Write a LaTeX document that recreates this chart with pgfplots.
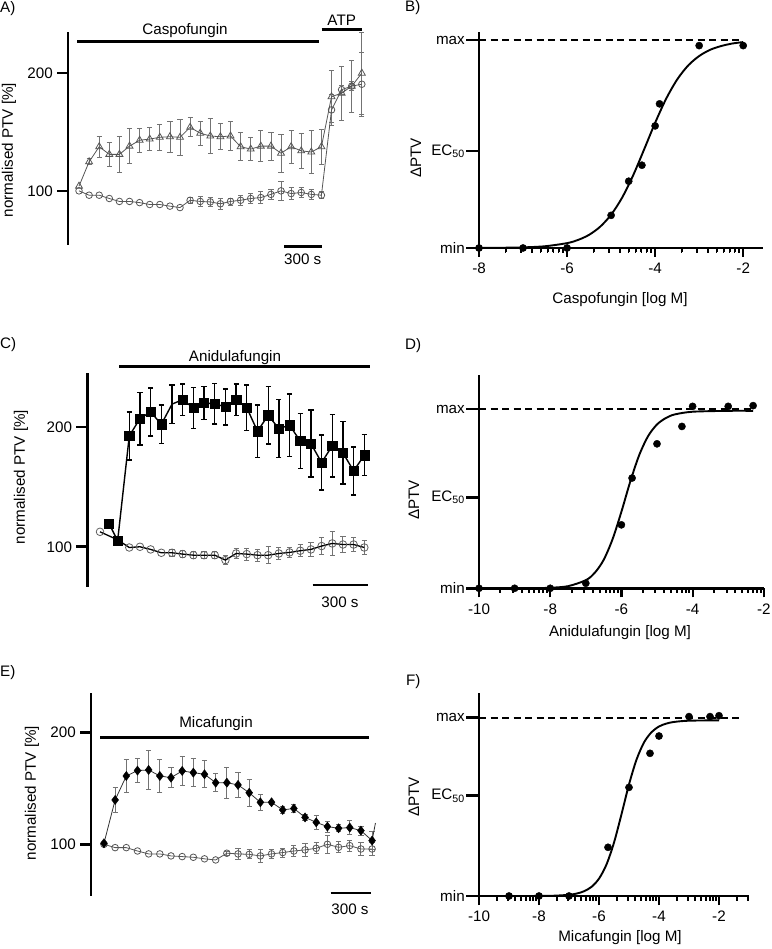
\documentclass[border=0pt]{standalone}
\usepackage{fontspec}
\setmainfont{Liberation Sans}
\usepackage{pgfplots}
\usepackage{pgfplotstable}
\pgfplotsset{compat=1.18}
\definecolor{agray}{RGB}{85,85,85}
\definecolor{egray}{RGB}{115,115,115}
\definecolor{cgray}{RGB}{95,95,95}

% Panel A: caspofungin (triangles) and control (circles)
\pgfplotstableread{
i v e
0 104 0
1 124.7 2.5
2 137.5 9
3 131 10
4 131 15
5 138 15
6 143 10
7 144 10
8 145.5 11
9 146 13
10 145.5 15
11 154 8
12 149 10
13 146.6 15
14 146 11
15 146.6 12
16 137.5 12
17 135.5 10
18 138 13
19 138 12
20 132 16
21 137.5 14
22 134 15
23 133 18
24 137.5 15
25 180 22
26 183 23
27 189 22
28 200 35
}\AT
\pgfplotstableread{
i v e
0 100 0
1 96.3 0
2 96.3 0
3 93.5 0
4 91 0
5 91 0
6 90 0
7 88.4 0
8 88.4 0
9 87 0
10 85.8 0
11 92 2.5
12 91 4
13 90.6 4
14 89 5
15 91 3
16 92 4
17 93.5 4
18 94.3 5
19 97 4
20 100 8
21 97.7 5
22 98.6 4
23 97 4
24 96.3 3
25 168.8 13
26 186 4
27 189 4
28 190.6 27
}\AC
% Panel C: anidulafungin (squares) and control (circles)
\pgfplotstableread{
i v e
0.1 119.4 2
0.91 105 0
2 192.5 20
3 207 22
4 212.5 20
5 202.2 16
6 219 16
7 222.8 13
8 215.8 17
9 220 14
10 219.4 17
11 216.7 15
12 222.8 13
13 216 19
14 196.4 22
15 209.7 24
16 198.6 24
17 201.4 26
18 188.3 23
19 186.1 28
20 170.3 23
21 184.2 26
22 178.3 26
23 163.3 20
24 176.4 17
}\CS
\pgfplotstableread{
i v e
-0.74 112.5 0
0.91 105.8 0
2 99.4 0
3 100 0
4 97.8 0
5 95 1.5
6 95 3
7 93.9 3
8 93 3
9 93 3
10 93 3
11 88.9 4
12 94.4 4
13 93.9 5
14 93 5
15 93 7
16 94.4 5
17 95.3 4
18 96.7 5
19 97.8 6
20 100.6 7
21 102.8 10
22 101.9 7
23 101.9 6
24 99.4 6
}\CC
% Panel E: micafungin (diamonds) and control (circles)
\pgfplotstableread{
i v e
0 100.9 0
1 139.6 11
2 161 15
3 165.8 11
4 166.4 17
5 161 15
6 159.5 9
7 165.5 13
8 164 12.5
9 162.5 12
10 155 8
11 155 14
12 153 11
13 146 12
14 137.5 7
15 137.5 2
16 130.7 3
17 132 4
18 124 3
19 119.6 6
20 115.8 5
21 114.3 3
22 114.9 6
23 112.2 4
24 103.3 8
24.3 119 0
}\ED
\pgfplotstableread{
i v e
0 100 0
1 97 0
2 97 0
3 94 0
4 91.4 0
5 91.4 0
6 89.6 0
7 89 0
8 88.4 0
9 87 0
10 86 0
11 92 2
12 91.4 5
13 91 4
14 89.6 6
15 91.4 4
16 92.6 4
17 94 5
18 95 6
19 96.4 5
20 100 8
21 97.3 5
22 98.8 5
23 95.8 6
24 95.8 6
}\EC
% Concentration-response points
\pgfplotstableread{
x y
-8 0
-7 0
-6 0
-5 0.157
-4.6 0.321
-4.3 0.398
-4 0.587
-3.9 0.693
-3 0.973
-2 0.973
}\Bpts
\pgfplotstableread{
x y
-8 0.0004
-7.5 0.0011
-7 0.003
-6.5 0.0084
-6 0.0234
-5.75 0.0387
-5.5 0.0633
-5.25 0.102
-5 0.16
-4.75 0.242
-4.5 0.349
-4.25 0.474
-4 0.602
-3.75 0.7175
-3.5 0.81
-3.25 0.8775
-3 0.923
-2.75 0.953
-2.5 0.971
-2.25 0.983
-2 0.99
}\Bfit
\pgfplotstableread{
x y
-10 0
-9 0
-8 0
-7 0.028
-6 0.354
-5.7 0.615
-5 0.806
-4.3 0.903
-4 1.015
-3 1.015
-2.3 1.019
}\Dpts
\pgfplotstableread{
x y
-10 0
-9 0.0002
-8.5 0.0008
-8 0.003
-7.5 0.0118
-7 0.0452
-6.75 0.086
-6.5 0.158
-6.25 0.273
-6 0.427
-5.75 0.596
-5.5 0.743
-5.25 0.849
-5 0.914
-4.75 0.950
-4.5 0.970
-4 0.985
-3 0.990
-2.3 0.990
}\Dfit
\pgfplotstableread{
x y
-9 0
-8 0
-7 0
-5.7 0.273
-5 0.609
-4.3 0.8
-4 0.897
-3 1.006
-2.3 1.006
-2 1.011
}\Fpts
\pgfplotstableread{
x y
-10 0
-9 0.00003
-8 0.0004
-7.5 0.0017
-7 0.0068
-6.75 0.0134
-6.5 0.0264
-6.25 0.0512
-6 0.0973
-5.75 0.1768
-5.5 0.2994
-5.25 0.4585
-5 0.6255
-4.75 0.7644
-4.5 0.8609
-4.25 0.9185
-4 0.9505
-3.75 0.967
-3.5 0.976
-3 0.983
-2 0.985
}\Ffit

\pgfplotsset{
  linestyles/.style={
    axis line style={-, line width=2.6pt, black},
    tick style={line width=2.4pt, black},
    major tick length=10pt, minor tick length=4.5pt,
    tick align=outside},
  base/.style={scale only axis, anchor=south west, clip=false},
  timeax/.style={base, axis y line=left, axis x line=none,
    ytick={100,200}, yticklabels={100,200}, linestyles},
  doseax/.style={base, axis lines=left, ymin=0,
    ytick={0,#1,1}, yticklabels={min,EC\textsubscript{50},max},
    x tick label style={yshift=-1pt}, linestyles,
    x tick style={line width=2pt, black},
    major tick length=9pt},
  ebar/.style n args={3}{only marks, mark=o, mark options={opacity=0}, forget plot,
    unbounded coords=discard,
    restrict expr to domain={\thisrow{e}}{#2:1000},
    /pgfplots/error bars/y dir=both, /pgfplots/error bars/y explicit,
    /pgfplots/error bars/error bar style={line width=#1, #3, opacity=1},
    /pgfplots/error bars/error mark options={rotate=90, mark size=2.6pt, line width=#1, #3, opacity=1}},
  fitline/.style={black, line width=1.9pt, smooth, mark=none},
  dots/.style={only marks, mark=*, mark size=3.6pt, black},
  maxline/.style={black, line width=1.9pt, dash pattern=on 7pt off 4.5pt, mark=none},
}

\begin{document}
\fontsize{15.2}{18}\selectfont
\begin{tikzpicture}
% ---------------- A ----------------
\begin{axis}[timeax, at={(68pt,704pt)}, width=302pt, height=213pt,
  xmin=-1.09, xmax=28.81, ymin=54, ymax=235]
\addplot[ebar={0.8pt}{2}{egray}] table[x=i, y=v, y error=e] {\AT};
\addplot[ebar={0.8pt}{2}{egray}] table[x=i, y=v, y error=e] {\AC};
\addplot[agray, line width=0.8pt, mark=triangle, mark size=4pt, mark options={line width=0.8pt}] table[x=i, y=v] {\AT};
\addplot[agray, line width=0.8pt, mark=o, mark size=3.3pt, mark options={line width=0.8pt}] table[x=i, y=v] {\AC};
\end{axis}
% ---------------- B ----------------
\begin{axis}[doseax=0.466, at={(479pt,701pt)}, width=284pt, height=216.3pt,
  xmin=-8, xmax=-1.55, ymax=1.04,
  xtick={-8,-6,-4,-2}, xticklabels={-8,-6,-4,-2},
  minor xtick={-7.398,-7.046,-6.796,-6.602,-6.444,-6.310,-6.194,-6.092,
    -5.398,-5.046,-4.796,-4.602,-4.444,-4.310,-4.194,-4.092,
    -3.398,-3.046,-2.796,-2.602,-2.444,-2.310,-2.194,-2.092}]
\addplot[maxline] coordinates {(-8,1) (-2,1)};
\addplot[fitline] table[x=x, y=y] {\Bfit};
\addplot[dots] table[x=x, y=y] {\Bpts};
\end{axis}
% ---------------- C ----------------
\begin{axis}[timeax, at={(87.3pt,362.3pt)}, width=284.7pt, height=213.7pt,
  xmin=-1.93, xmax=24.72, ymin=66.7, ymax=245]
\addplot[ebar={1.3pt}{1.8}{black}] table[x=i, y=v, y error=e] {\CS};
\addplot[ebar={0.9pt}{2.5}{egray}] table[x=i, y=v, y error=e] {\CC};
\addplot[black, line width=1.3pt, mark=none] table[x=i, y=v] {\CC};
\addplot[cgray, only marks, mark=o, mark size=3.8pt, mark options={line width=0.8pt}] table[x=i, y=v] {\CC};
\addplot[black, line width=1.4pt, mark=none] table[x=i, y=v] {\CS};
\addplot[black, only marks, mark=square*, mark size=4.6pt,
  mark indices={1,2,3,4,5,6,8,9,10,11,12,13,14,15,16,17,18,19,20,21,22,23,24,25}] table[x=i, y=v] {\CS};
\end{axis}
% ---------------- D ----------------
\begin{axis}[doseax=0.508, at={(479pt,360.7pt)}, width=284.8pt, height=213.3pt,
  xmin=-10, xmax=-2, ymax=1.19,
  xtick={-10,-8,-6,-4,-2}, xticklabels={-10,-8,-6,-4,-2},
  minor xtick={-9.398,-9.046,-8.796,-8.602,-8.444,-8.310,-8.194,-8.092,
    -7.398,-7.046,-6.796,-6.602,-6.444,-6.310,-6.194,-6.092,
    -5.398,-5.046,-4.796,-4.602,-4.444,-4.310,-4.194,-4.092,
    -3.398,-3.046,-2.796,-2.602,-2.444,-2.310,-2.194,-2.092}]
\addplot[maxline] coordinates {(-10,1) (-2.3,1)};
\addplot[fitline] table[x=x, y=y] {\Dfit};
\addplot[dots] table[x=x, y=y] {\Dpts};
\end{axis}
% ---------------- E ----------------
\begin{axis}[timeax, at={(91pt,53pt)}, width=285pt, height=203.3pt,
  xmin=-1.16, xmax=24.35, ymin=53.8, ymax=235.4]
\addplot[ebar={0.9pt}{1.8}{egray}] table[x=i, y=v, y error=e] {\ED};
\addplot[ebar={0.9pt}{2}{egray}] table[x=i, y=v, y error=e] {\EC};
\addplot[agray, line width=0.8pt, mark=o, mark size=3.3pt, mark options={line width=0.8pt}] table[x=i, y=v] {\EC};
\addplot[black!80, line width=0.8pt, mark=none] table[x=i, y=v] {\ED};
\addplot[black, only marks, mark=diamond*, mark size=4.6pt,
  mark indices={1,2,3,4,5,6,7,8,9,10,11,12,13,14,15,16,17,18,19,20,21,22,23,24,25}] table[x=i, y=v] {\ED};
\end{axis}
% ---------------- F ----------------
\begin{axis}[doseax=0.563, at={(479pt,53pt)}, width=270pt, height=203.3pt,
  xmin=-10, xmax=-1, ymax=1.14,
  xtick={-10,-8,-6,-4,-2}, xticklabels={-10,-8,-6,-4,-2},
  minor xtick={-9.398,-9.046,-8.796,-8.602,-8.444,-8.310,-8.194,-8.092,
    -7.398,-7.046,-6.796,-6.602,-6.444,-6.310,-6.194,-6.092,
    -5.398,-5.046,-4.796,-4.602,-4.444,-4.310,-4.194,-4.092,
    -3.398,-3.046,-2.796,-2.602,-2.444,-2.310,-2.194,-2.092,-1.398,-1.046}]
\addplot[maxline] coordinates {(-10,1) (-1.23,1)};
\addplot[fitline] table[x=x, y=y] {\Ffit};
\addplot[dots] table[x=x, y=y] {\Fpts};
\end{axis}

% ---------- tick overlays in picture coordinates ----------
\begin{scope}[line width=2.6pt, black]
% y ticks, time panels
\foreach \yy in {758.13,875.81} \draw (68pt,\yy pt) -- (57pt,\yy pt);
\foreach \yy in {402.21,522.07} \draw (87.3pt,\yy pt) -- (76.3pt,\yy pt);
\foreach \yy in {104.72,216.67} \draw (91pt,\yy pt) -- (80pt,\yy pt);
% y ticks, dose panels
\foreach \yy in {701,797.92,908.98} \draw (479pt,\yy pt) -- (466pt,\yy pt);
\foreach \yy in {360.7,451.75,539.94} \draw (479pt,\yy pt) -- (466pt,\yy pt);
\foreach \yy in {53,153.4,231.33} \draw (479pt,\yy pt) -- (466pt,\yy pt);
\end{scope}
\begin{scope}[line width=2.2pt, black]
\foreach \xx in {479,567.06,655.12,743.19} \draw (\xx pt,701pt) -- (\xx pt,692pt);
\foreach \xx in {479,550.2,621.4,692.6,763.8} \draw (\xx pt,360.7pt) -- (\xx pt,351.7pt);
\foreach \xx in {479,539,599,659,719} \draw (\xx pt,53pt) -- (\xx pt,44pt);
\end{scope}
\begin{scope}[line width=1.6pt, black]
\foreach \v in {-7.398,-7.046,-6.796,-6.602,-6.444,-6.310,-6.194,-6.092,-5.398,-5.046,-4.796,-4.602,-4.444,-4.310,-4.194,-4.092,-3.398,-3.046,-2.796,-2.602,-2.444,-2.310,-2.194,-2.092}
  \draw ({479pt+44.031pt*(\v+8)},701pt) -- ++(0pt,-5pt);
\foreach \v in {-9.398,-9.046,-8.796,-8.602,-8.444,-8.310,-8.194,-8.092,-7.398,-7.046,-6.796,-6.602,-6.444,-6.310,-6.194,-6.092,-5.398,-5.046,-4.796,-4.602,-4.444,-4.310,-4.194,-4.092,-3.398,-3.046,-2.796,-2.602,-2.444,-2.310,-2.194,-2.092}
  \draw ({479pt+35.6pt*(\v+10)},360.7pt) -- ++(0pt,-5pt);
\foreach \v in {-9.398,-9.046,-8.796,-8.602,-8.444,-8.310,-8.194,-8.092,-7.398,-7.046,-6.796,-6.602,-6.444,-6.310,-6.194,-6.092,-5.398,-5.046,-4.796,-4.602,-4.444,-4.310,-4.194,-4.092,-3.398,-3.046,-2.796,-2.602,-2.444,-2.310,-2.194,-2.092,-1.398,-1.046}
  \draw ({479pt+30pt*(\v+10)},53pt) -- ++(0pt,-5pt);
\end{scope}

% ---------- annotations ----------
\node[anchor=west, inner sep=0] at (0pt,940pt) {A)};
\node[anchor=west, inner sep=0] at (405pt,941pt) {B)};
\node[anchor=west, inner sep=0] at (0pt,604pt) {C)};
\node[anchor=west, inner sep=0] at (405pt,603pt) {D)};
\node[anchor=west, inner sep=0] at (0pt,276pt) {E)};
\node[anchor=west, inner sep=0] at (406pt,267pt) {F)};
\node[rotate=90] at (9pt,799pt) {normalised PTV [\%]};
\node[rotate=90] at (21pt,472pt) {normalised PTV [\%]};
\node[rotate=90] at (32pt,156pt) {normalised PTV [\%]};
\node[rotate=90] at (416pt,791pt) {ΔPTV};
\node[rotate=90] at (414pt,449pt) {ΔPTV};
\node[rotate=90] at (414pt,152pt) {ΔPTV};
\node at (620pt,649pt) {Caspofungin [log M]};
\node at (620pt,316pt) {Anidulafungin [log M]};
\node at (620pt,11pt) {Micafungin [log M]};
\draw[line width=2.7pt] (77pt,907.3pt) -- (319pt,907.3pt);
\node[anchor=base] at (185pt,914.7pt) {Caspofungin};
\draw[line width=2.7pt] (321.7pt,919.7pt) -- (361.7pt,919.7pt);
\node[anchor=base] at (341.7pt,923pt) {ATP};
\draw[line width=2.7pt] (119.3pt,582.3pt) -- (370pt,582.3pt);
\node[anchor=base] at (235pt,587pt) {Anidulafungin};
\draw[line width=2.7pt] (100pt,211.7pt) -- (369.3pt,211.7pt);
\node[anchor=base] at (216pt,221pt) {Micafungin};
\draw[line width=2.5pt] (284pt,702.3pt) -- (321.7pt,702.3pt);
\node[anchor=base] at (302.7pt,684pt) {300 s};
\draw[line width=2.5pt] (312.7pt,364pt) -- (368.3pt,364pt);
\node[anchor=base] at (340pt,341pt) {300 s};
\draw[line width=2.5pt] (330.7pt,56pt) -- (371pt,56pt);
\node[anchor=base] at (350pt,34pt) {300 s};
\pgfresetboundingbox
\path (0pt,0pt) rectangle (771pt,949pt);
\end{tikzpicture}
\end{document}
